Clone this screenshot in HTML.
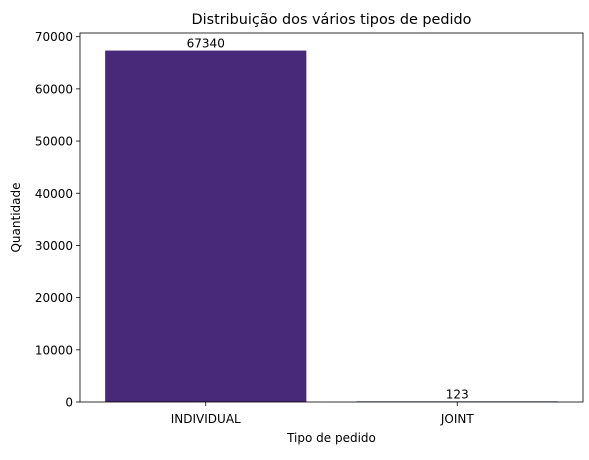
<!DOCTYPE html>
<html><head><meta charset="utf-8"><style>
body{margin:0;background:#fff;font-family:"Liberation Sans","DejaVu Sans",sans-serif}
svg text{font-family:"DejaVu Sans","Liberation Sans",sans-serif;font-size:12px;fill:#000}
</style></head><body>
<svg id="chart" width="589" height="455"></svg>
<script>
const categories=["INDIVIDUAL","JOINT"];
const values=[67340,123];
const yTicks=[0,10000,20000,30000,40000,50000,60000,70000];
const colors=["#482878","#2c3e7a"];
const L=80,R=583,T=33,B=402,yMax=70707;
const svg=document.getElementById('chart');
const NS='http://www.w3.org/2000/svg';
function y(v){return B-(v/yMax)*(B-T);}
const step=(R-L)/categories.length;
function xc(i){return L+step*(i+0.5);}
function mk(tag,attrs,parent){const e=document.createElementNS(NS,tag);for(const k in attrs)e.setAttribute(k,attrs[k]);(parent||svg).appendChild(e);return e;}
categories.forEach((c,i)=>{
 const w=step*0.8;
 const r=mk('rect',{x:xc(i)-w/2,y:y(values[i]),width:w,height:B-y(values[i]),fill:colors[i]});
 
 
 const t=mk('text',{x:xc(i),y:y(values[i])-3,'text-anchor':'middle'});t.textContent=values[i];
 
 
 mk('line',{x1:xc(i),x2:xc(i),y1:B,y2:B+4,stroke:'#000','stroke-width':0.8});
 const xl=mk('text',{x:xc(i),y:B+21,'text-anchor':'middle'});xl.textContent=c;
 
 
});
yTicks.forEach(v=>{
 mk('line',{x1:L-4,x2:L,y1:y(v),y2:y(v),stroke:'#000','stroke-width':0.8});
 const t=mk('text',{x:L-7,y:y(v)+4.5,'text-anchor':'end'});t.textContent=v;
 
 
});
const fr=mk('rect',{x:L,y:T,width:R-L,height:B-T,fill:'none',stroke:'#000','stroke-width':0.8});


const ti=mk('text',{x:(L+R)/2,y:T-9,'text-anchor':'middle',style:'font-size:14.4px'});ti.textContent='Distribuição dos vários tipos de pedido';


const xt=mk('text',{x:(L+R)/2,y:442,'text-anchor':'middle'});xt.textContent='Tipo de pedido';


const yt=mk('text',{x:0,y:0,'text-anchor':'middle',transform:`translate(20,${(T+B)/2}) rotate(-90)`});yt.textContent='Quantidade';


</script>
</body></html>
